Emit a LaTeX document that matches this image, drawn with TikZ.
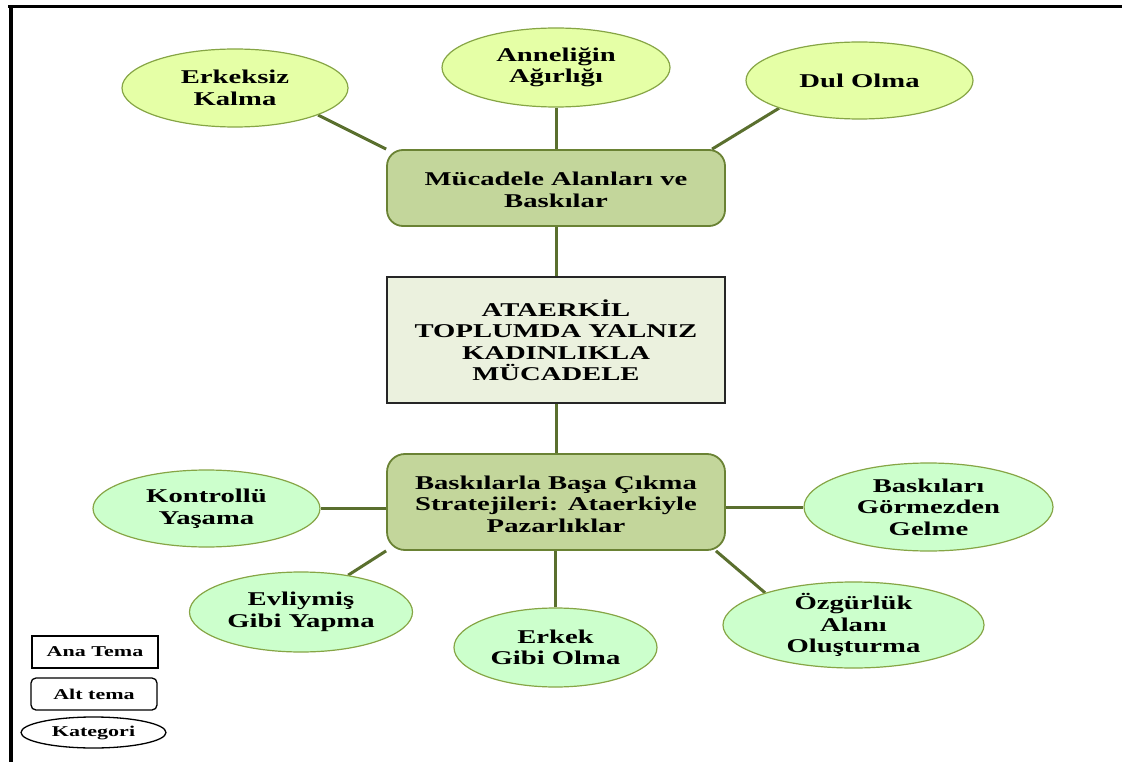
\documentclass[tikz,border=0pt]{standalone}
\usepackage{fontspec}
\setmainfont{Liberation Serif}[FakeStretch=1.47]
\usetikzlibrary{shapes.geometric,backgrounds}

\definecolor{topfill}{HTML}{E5FFA6}
\definecolor{botfill}{HTML}{CCFFCC}
\definecolor{ovalline}{HTML}{86A545}
\definecolor{subfill}{HTML}{C3D69B}
\definecolor{subline}{HTML}{6A8234}
\definecolor{mainfill}{HTML}{EBF1DE}
\definecolor{mainline}{HTML}{262626}
\definecolor{linkcol}{HTML}{5A6F2E}

\begin{document}
\begin{tikzpicture}[x=1pt,y=-1pt,
  oval/.style={ellipse, draw=ovalline, line width=1.2pt, inner sep=0pt},
  topcat/.style={oval, fill=topfill},
  botcat/.style={oval, fill=botfill},
  subtheme/.style={rectangle, rounded corners=16pt, draw=subline, line width=1.8pt,
    fill=subfill, inner sep=0pt, minimum width=338pt},
  maintheme/.style={rectangle, draw=mainline, line width=1.8pt, fill=mainfill,
    inner sep=0pt, minimum width=338pt, minimum height=126pt},
  txt/.style={align=center, inner sep=0pt,
    font=\bfseries\fontsize{19.5}{21.5}\selectfont},
  legtxt/.style={align=center, inner sep=0pt,
    font=\bfseries\fontsize{15}{17}\selectfont},
  legbox/.style={draw=black, line width=1.3pt, fill=white, inner sep=0pt,
    minimum width=126pt, minimum height=32pt},
  link/.style={draw=linkcol, line width=3pt},
  frameline/.style={draw=black}
]
\useasboundingbox (0,0) rectangle (1122,762);

% page frame (top and left edges)
\draw[frameline, line width=3pt] (8,7) -- (1122,7);
\draw[frameline, line width=4pt] (11,5.5) -- (11,762);

% main theme
\node[maintheme] (ce) at (556,340) {};
\node[txt] (ce-t) at (ce) {ATAERKİL\\TOPLUMDA YALNIZ\\KADINLIKLA\\MÜCADELE};

% sub-themes
\node[subtheme, minimum height=76pt] (mu) at (556,188) {};
\node[txt] (mu-t) at (556,190) {Mücadele Alanları ve\\Baskılar};

\node[subtheme, rounded corners=18pt, minimum height=96pt] (bs) at (556,502) {};
\node[txt] (bs-t) at (556,504) {Baskılarla Başa Çıkma\\Stratejileri: Ataerkiyle\\Pazarlıklar};

% categories of the first sub-theme
\node[topcat, minimum width=226pt, minimum height=78pt] (ek) at (235,88) {};
\node[txt] (ek-t) at (ek) {Erkeksiz\\Kalma};

\node[topcat, minimum width=228pt, minimum height=79pt] (an) at (556,67.5) {};
\node[txt] (an-t) at (an) {Anneliğin\\Ağırlığı};

\node[topcat, minimum width=227pt, minimum height=77pt] (dl) at (859.5,80.5) {};
\node[txt] (dl-t) at (dl) {Dul Olma};

% categories of the second sub-theme
\node[botcat, minimum width=227pt, minimum height=77pt] (ko) at (206.5,508.5) {};
\node[txt] (ko-t) at (ko) {Kontrollü\\Yaşama};

\node[botcat, minimum width=249pt, minimum height=88pt] (gm) at (928.5,507) {};
\node[txt] (gm-t) at (gm) {Baskıları\\Görmezden\\Gelme};

\node[botcat, minimum width=223pt, minimum height=80pt] (ev) at (301,612) {};
\node[txt] (ev-t) at (ev) {Evliymiş\\Gibi Yapma};

\node[botcat, minimum width=203pt, minimum height=79pt] (er) at (555.5,647.5) {};
\node[txt] (er-t) at (er) {Erkek\\Gibi Olma};

\node[botcat, minimum width=261pt, minimum height=86pt] (oz) at (853.5,625) {};
\node[txt] (oz-t) at (oz) {Özgürlük\\Alanı\\Oluşturma};

% legend
\node[legbox] (lg1) at (95,652) {};
\node[legtxt] (lg1-t) at (lg1) {Ana Tema};
\node[legbox, rounded corners=5pt] (lg2) at (94,694) {};
\node[legtxt] (lg2-t) at (lg2) {Alt tema};
\node[ellipse, draw=black, line width=1.3pt, fill=white, inner sep=0pt,
  minimum width=145pt, minimum height=31pt] (lg3) at (93.5,732.5) {};
\node[legtxt] (lg3-t) at (lg3) {Kategori};

% connectors
\begin{scope}[on background layer]
  \draw[link] (ek.-18) -- (mu.north west);
  \draw[link] (an.south) -- (mu.north);
  \draw[link] (dl.199) -- (mu.14);
  \draw[link] (mu.south) -- (ce.north);
  \draw[link] (ce.south) -- (bs.north);
  \draw[link] (ko.east) -- (ko.east -| bs.west);
  \draw[link] (gm.west) -- (gm.west -| bs.east);
  \draw[link] (ev.38) -- (bs.south west);
  \draw[link] (er.north) -- (er.north |- bs.south);
  \draw[link] (oz.160) -- (bs.-17);
\end{scope}
\end{tikzpicture}
\end{document}
